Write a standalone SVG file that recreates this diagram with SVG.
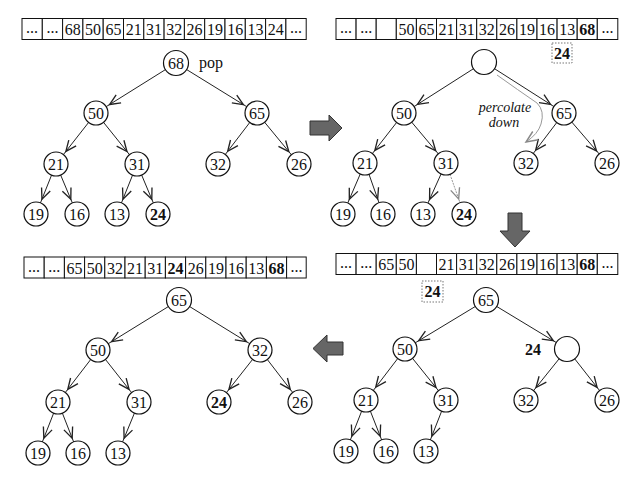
<svg xmlns="http://www.w3.org/2000/svg" width="628" height="487" viewBox="0 0 628 487">
<style>
text{font-family:"Liberation Serif","Times New Roman",serif;font-size:16px;fill:#111;text-anchor:middle}
.b{font-weight:bold}
.it{font-style:italic;font-size:14px}
.n circle{fill:#fff;stroke:#111;stroke-width:1.2}
.cell{fill:#fff;stroke:#111;stroke-width:1}
.e{stroke:#222;stroke-width:1;fill:none;marker-end:url(#ah)}
.ed{stroke:#999;stroke-width:1;stroke-dasharray:2 1;fill:none;marker-end:url(#ahg)}
.dbox{fill:#fff;stroke:#777;stroke-width:1;stroke-dasharray:1.5 1.5}
.blk{fill:#666;stroke:#333;stroke-width:1}
</style>
<defs>
<marker id="ah" markerUnits="userSpaceOnUse" markerWidth="40" markerHeight="20" viewBox="-2 -6 30 12" refX="20" refY="0" orient="auto" overflow="visible">
<path d="M0,-3.5 L8,0 L0,3.5" fill="none" stroke="#222" stroke-width="1"/>
</marker>
<marker id="ahg" markerUnits="userSpaceOnUse" markerWidth="40" markerHeight="20" viewBox="-2 -6 30 12" refX="20" refY="0" orient="auto" overflow="visible">
<path d="M0,-3.5 L8,0 L0,3.5" fill="none" stroke="#888" stroke-width="1"/>
</marker>
<marker id="ahp" markerUnits="userSpaceOnUse" markerWidth="20" markerHeight="20" viewBox="-2 -6 14 12" refX="8" refY="0" orient="auto" overflow="visible">
<path d="M0,-3.5 L8,0 L0,3.5" fill="none" stroke="#888" stroke-width="1"/>
</marker>
</defs>
<rect width="628" height="487" fill="#fff"/>

<!-- arrays -->
<g id="array1">
<rect class="cell" x="22" y="18.5" width="20.3" height="21"/><text x="32" y="33" font-size="10">...</text>
<rect class="cell" x="42.3" y="18.5" width="20.3" height="21"/><text x="52.5" y="33" font-size="10">...</text>
<rect class="cell" x="62.6" y="18.5" width="20.3" height="21"/><text x="72.8" y="35">68</text>
<rect class="cell" x="82.9" y="18.5" width="20.3" height="21"/><text x="93.1" y="35">50</text>
<rect class="cell" x="103.2" y="18.5" width="20.3" height="21"/><text x="113.4" y="35">65</text>
<rect class="cell" x="123.5" y="18.5" width="20.3" height="21"/><text x="133.7" y="35">21</text>
<rect class="cell" x="143.8" y="18.5" width="20.3" height="21"/><text x="154" y="35">31</text>
<rect class="cell" x="164.1" y="18.5" width="20.3" height="21"/><text x="174.3" y="35">32</text>
<rect class="cell" x="184.4" y="18.5" width="20.3" height="21"/><text x="194.6" y="35">26</text>
<rect class="cell" x="204.7" y="18.5" width="20.3" height="21"/><text x="214.9" y="35">19</text>
<rect class="cell" x="225" y="18.5" width="20.3" height="21"/><text x="235.2" y="35">16</text>
<rect class="cell" x="245.3" y="18.5" width="20.3" height="21"/><text x="255.5" y="35">13</text>
<rect class="cell" x="265.6" y="18.5" width="20.3" height="21"/><text x="275.8" y="35">24</text>
<rect class="cell" x="285.9" y="18.5" width="20.3" height="21"/><text x="296" y="33" font-size="10">...</text>
</g>
<g id="array2">
<rect class="cell" x="336" y="18.5" width="20.1" height="21"/><text x="346" y="33" font-size="10">...</text>
<rect class="cell" x="356.1" y="18.5" width="20.1" height="21"/><text x="366.2" y="33" font-size="10">...</text>
<rect class="cell" x="376.2" y="18.5" width="20.1" height="21"/>
<rect class="cell" x="396.3" y="18.5" width="20.1" height="21"/><text x="406.4" y="35">50</text>
<rect class="cell" x="416.4" y="18.5" width="20.1" height="21"/><text x="426.5" y="35">65</text>
<rect class="cell" x="436.5" y="18.5" width="20.1" height="21"/><text x="446.6" y="35">21</text>
<rect class="cell" x="456.6" y="18.5" width="20.1" height="21"/><text x="466.7" y="35">31</text>
<rect class="cell" x="476.7" y="18.5" width="20.1" height="21"/><text x="486.8" y="35">32</text>
<rect class="cell" x="496.8" y="18.5" width="20.1" height="21"/><text x="506.9" y="35">26</text>
<rect class="cell" x="516.9" y="18.5" width="20.1" height="21"/><text x="527" y="35">19</text>
<rect class="cell" x="537" y="18.5" width="20.1" height="21"/><text x="547.1" y="35">16</text>
<rect class="cell" x="557.1" y="18.5" width="20.1" height="21"/><text x="567.2" y="35">13</text>
<rect class="cell" x="577.2" y="18.5" width="20.1" height="21"/><text class="b" x="587.3" y="35">68</text>
<rect class="cell" x="597.3" y="18.5" width="20.5" height="21"/><text x="607.5" y="33" font-size="10">...</text>
</g>
<g id="array3">
<rect class="cell" x="336" y="253.5" width="20.1" height="21"/><text x="346" y="268" font-size="10">...</text>
<rect class="cell" x="356.1" y="253.5" width="20.1" height="21"/><text x="366.2" y="268" font-size="10">...</text>
<rect class="cell" x="376.2" y="253.5" width="20.1" height="21"/><text x="386.3" y="270">65</text>
<rect class="cell" x="396.3" y="253.5" width="20.1" height="21"/><text x="406.4" y="270">50</text>
<rect class="cell" x="416.4" y="253.5" width="20.1" height="21"/>
<rect class="cell" x="436.5" y="253.5" width="20.1" height="21"/><text x="446.6" y="270">21</text>
<rect class="cell" x="456.6" y="253.5" width="20.1" height="21"/><text x="466.7" y="270">31</text>
<rect class="cell" x="476.7" y="253.5" width="20.1" height="21"/><text x="486.8" y="270">32</text>
<rect class="cell" x="496.8" y="253.5" width="20.1" height="21"/><text x="506.9" y="270">26</text>
<rect class="cell" x="516.9" y="253.5" width="20.1" height="21"/><text x="527" y="270">19</text>
<rect class="cell" x="537" y="253.5" width="20.1" height="21"/><text x="547.1" y="270">16</text>
<rect class="cell" x="557.1" y="253.5" width="20.1" height="21"/><text x="567.2" y="270">13</text>
<rect class="cell" x="577.2" y="253.5" width="20.1" height="21"/><text class="b" x="587.3" y="270">68</text>
<rect class="cell" x="597.3" y="253.5" width="20.5" height="21"/><text x="607.5" y="268" font-size="10">...</text>
</g>
<g id="array4">
<rect class="cell" x="24" y="257" width="20.2" height="21"/><text x="34" y="271.5" font-size="10">...</text>
<rect class="cell" x="44.2" y="257" width="20.2" height="21"/><text x="54.3" y="271.5" font-size="10">...</text>
<rect class="cell" x="64.4" y="257" width="20.2" height="21"/><text x="74.5" y="273.5">65</text>
<rect class="cell" x="84.6" y="257" width="20.2" height="21"/><text x="94.7" y="273.5">50</text>
<rect class="cell" x="104.8" y="257" width="20.2" height="21"/><text x="114.9" y="273.5">32</text>
<rect class="cell" x="125" y="257" width="20.2" height="21"/><text x="135.1" y="273.5">21</text>
<rect class="cell" x="145.2" y="257" width="20.2" height="21"/><text x="155.3" y="273.5">31</text>
<rect class="cell" x="165.4" y="257" width="20.2" height="21"/><text class="b" x="175.5" y="273.5">24</text>
<rect class="cell" x="185.6" y="257" width="20.2" height="21"/><text x="195.7" y="273.5">26</text>
<rect class="cell" x="205.8" y="257" width="20.2" height="21"/><text x="215.9" y="273.5">19</text>
<rect class="cell" x="226" y="257" width="20.2" height="21"/><text x="236.1" y="273.5">16</text>
<rect class="cell" x="246.2" y="257" width="20.2" height="21"/><text x="256.3" y="273.5">13</text>
<rect class="cell" x="266.4" y="257" width="20.2" height="21"/><text class="b" x="276.5" y="273.5">68</text>
<rect class="cell" x="286.6" y="257" width="19.6" height="21"/><text x="296.4" y="271.5" font-size="10">...</text>
</g>

<!-- block arrows -->
<g id="arrow-right"><polygon class="blk" points="310,121 329,121 329,115 342,128 329,141 329,135 310,135"/></g>
<g id="arrow-down"><polygon class="blk" points="508,213 522,213 522,231 530,231 515,247 500,231 508,231"/></g>
<g id="arrow-left"><polygon class="blk" points="343,342 327,342 327,335 313,348.5 327,362 327,355 343,355"/></g>

<!-- connectors -->
<g id="connectors">
<line class="e" x1="176" y1="63" x2="96" y2="113"/>
<line class="e" x1="176" y1="63" x2="257" y2="113"/>
<line class="e" x1="96" y1="113" x2="56" y2="164"/>
<line class="e" x1="96" y1="113" x2="137" y2="164"/>
<line class="e" x1="257" y1="113" x2="218" y2="164"/>
<line class="e" x1="257" y1="113" x2="299" y2="164"/>
<line class="e" x1="56" y1="164" x2="36" y2="214"/>
<line class="e" x1="56" y1="164" x2="77" y2="214"/>
<line class="e" x1="137" y1="164" x2="117" y2="214"/>
<line class="e" x1="137" y1="164" x2="158" y2="214"/>

<line class="e" x1="484" y1="62" x2="404" y2="113"/>
<line class="e" x1="484" y1="62" x2="564" y2="113"/>
<line class="e" x1="404" y1="113" x2="365" y2="163"/>
<line class="e" x1="404" y1="113" x2="446" y2="163"/>
<line class="e" x1="564" y1="113" x2="526" y2="163"/>
<line class="e" x1="564" y1="113" x2="607" y2="163"/>
<line class="e" x1="365" y1="163" x2="343" y2="214"/>
<line class="e" x1="365" y1="163" x2="383" y2="214"/>
<line class="e" x1="446" y1="163" x2="423" y2="214"/>
<line class="ed" x1="446" y1="163" x2="464" y2="214"/>
<path d="M497,75 Q518,90 537,103 Q545,111 541,124 Q538,134 526,142" fill="none" stroke="#999" stroke-width="1" marker-end="url(#ahp)"/>

<line class="e" x1="486" y1="300" x2="405" y2="349"/>
<line class="e" x1="486" y1="300" x2="567" y2="349"/>
<line class="e" x1="405" y1="349" x2="366" y2="400"/>
<line class="e" x1="405" y1="349" x2="446" y2="400"/>
<line class="e" x1="567" y1="349" x2="526" y2="400"/>
<line class="e" x1="567" y1="349" x2="607" y2="400"/>
<line class="e" x1="366" y1="400" x2="346" y2="451"/>
<line class="e" x1="366" y1="400" x2="386" y2="451"/>
<line class="e" x1="446" y1="400" x2="426" y2="451"/>

<line class="e" x1="179" y1="300" x2="98" y2="350"/>
<line class="e" x1="179" y1="300" x2="260" y2="350"/>
<line class="e" x1="98" y1="350" x2="58" y2="402"/>
<line class="e" x1="98" y1="350" x2="139" y2="402"/>
<line class="e" x1="260" y1="350" x2="219" y2="402"/>
<line class="e" x1="260" y1="350" x2="300" y2="402"/>
<line class="e" x1="58" y1="402" x2="38" y2="453"/>
<line class="e" x1="58" y1="402" x2="78" y2="453"/>
<line class="e" x1="139" y1="402" x2="118" y2="453"/>
</g>

<!-- panel 1 nodes -->
<g id="p1-68" class="n"><circle cx="176" cy="63" r="12.5"/><text x="176" y="68.5">68</text></g>
<text x="211" y="68">pop</text>
<g id="p1-50" class="n"><circle cx="96" cy="113" r="12"/><text x="96" y="118.5">50</text></g>
<g id="p1-65" class="n"><circle cx="257" cy="113" r="12"/><text x="257" y="118.5">65</text></g>
<g id="p1-21" class="n"><circle cx="56" cy="164" r="12"/><text x="56" y="169.5">21</text></g>
<g id="p1-31" class="n"><circle cx="137" cy="164" r="12"/><text x="137" y="169.5">31</text></g>
<g id="p1-32" class="n"><circle cx="218" cy="164" r="12"/><text x="218" y="169.5">32</text></g>
<g id="p1-26" class="n"><circle cx="299" cy="164" r="12"/><text x="299" y="169.5">26</text></g>
<g id="p1-19" class="n"><circle cx="36" cy="214" r="12"/><text x="36" y="219.5">19</text></g>
<g id="p1-16" class="n"><circle cx="77" cy="214" r="12"/><text x="77" y="219.5">16</text></g>
<g id="p1-13" class="n"><circle cx="117" cy="214" r="12"/><text x="117" y="219.5">13</text></g>
<g id="p1-24" class="n"><circle cx="158" cy="214" r="12"/><text class="b" x="158" y="219.5">24</text></g>

<!-- panel 2 nodes -->
<g id="p2-root" class="n"><circle cx="484" cy="62" r="12.5"/></g>
<g id="p2-24box"><rect class="dbox" x="552" y="43" width="20" height="20"/><text class="b" x="562" y="58.5">24</text></g>
<text class="it" x="505" y="112">percolate</text>
<text class="it" x="504" y="127">down</text>
<g id="p2-50" class="n"><circle cx="404" cy="113" r="12"/><text x="404" y="118.5">50</text></g>
<g id="p2-65" class="n"><circle cx="564" cy="113" r="12"/><text x="564" y="118.5">65</text></g>
<g id="p2-21" class="n"><circle cx="365" cy="163" r="12"/><text x="365" y="168.5">21</text></g>
<g id="p2-31" class="n"><circle cx="446" cy="163" r="12"/><text x="446" y="168.5">31</text></g>
<g id="p2-32" class="n"><circle cx="526" cy="163" r="12"/><text x="526" y="168.5">32</text></g>
<g id="p2-26" class="n"><circle cx="607" cy="163" r="12"/><text x="607" y="168.5">26</text></g>
<g id="p2-19" class="n"><circle cx="343" cy="214" r="12"/><text x="343" y="219.5">19</text></g>
<g id="p2-16" class="n"><circle cx="383" cy="214" r="12"/><text x="383" y="219.5">16</text></g>
<g id="p2-13" class="n"><circle cx="423" cy="214" r="12"/><text x="423" y="219.5">13</text></g>
<g id="p2-24" class="n"><circle cx="464" cy="214" r="12"/><text class="b" x="464" y="219.5">24</text></g>

<!-- panel 3 nodes -->
<g id="p3-24box"><rect class="dbox" x="422" y="281" width="21" height="21"/><text class="b" x="432.5" y="297">24</text></g>
<g id="p3-65" class="n"><circle cx="486" cy="300" r="12.5"/><text x="486" y="305.5">65</text></g>
<g id="p3-50" class="n"><circle cx="405" cy="349" r="12"/><text x="405" y="354.5">50</text></g>
<g id="p3-empty" class="n"><circle cx="567" cy="349" r="12.5"/></g>
<text class="b" x="533" y="354.5">24</text>
<g id="p3-21" class="n"><circle cx="366" cy="400" r="12"/><text x="366" y="405.5">21</text></g>
<g id="p3-31" class="n"><circle cx="446" cy="400" r="12"/><text x="446" y="405.5">31</text></g>
<g id="p3-32" class="n"><circle cx="526" cy="400" r="12"/><text x="526" y="405.5">32</text></g>
<g id="p3-26" class="n"><circle cx="607" cy="400" r="12"/><text x="607" y="405.5">26</text></g>
<g id="p3-19" class="n"><circle cx="346" cy="451" r="12"/><text x="346" y="456.5">19</text></g>
<g id="p3-16" class="n"><circle cx="386" cy="451" r="12"/><text x="386" y="456.5">16</text></g>
<g id="p3-13" class="n"><circle cx="426" cy="451" r="12"/><text x="426" y="456.5">13</text></g>

<!-- panel 4 nodes -->
<g id="p4-65" class="n"><circle cx="179" cy="300" r="12.5"/><text x="179" y="305.5">65</text></g>
<g id="p4-50" class="n"><circle cx="98" cy="350" r="12"/><text x="98" y="355.5">50</text></g>
<g id="p4-32" class="n"><circle cx="260" cy="350" r="12"/><text x="260" y="355.5">32</text></g>
<g id="p4-21" class="n"><circle cx="58" cy="402" r="12"/><text x="58" y="407.5">21</text></g>
<g id="p4-31" class="n"><circle cx="139" cy="402" r="12"/><text x="139" y="407.5">31</text></g>
<g id="p4-24" class="n"><circle cx="219" cy="402" r="12"/><text class="b" x="219" y="407.5">24</text></g>
<g id="p4-26" class="n"><circle cx="300" cy="402" r="12"/><text x="300" y="407.5">26</text></g>
<g id="p4-19" class="n"><circle cx="38" cy="453" r="12"/><text x="38" y="458.5">19</text></g>
<g id="p4-16" class="n"><circle cx="78" cy="453" r="12"/><text x="78" y="458.5">16</text></g>
<g id="p4-13" class="n"><circle cx="118" cy="453" r="12"/><text x="118" y="458.5">13</text></g>
</svg>
